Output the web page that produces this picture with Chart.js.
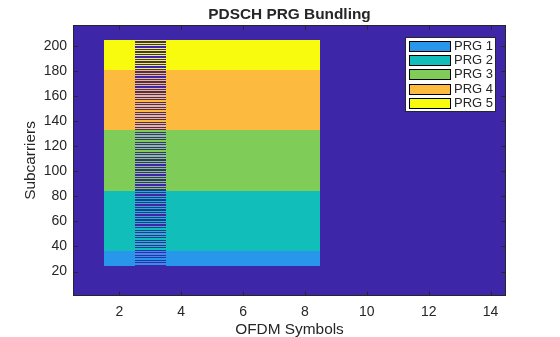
<!DOCTYPE html>
<html>
<head>
<meta charset="utf-8">
<title>PDSCH PRG Bundling</title>
<script src="https://cdn.jsdelivr.net/npm/chart.js@4.4.0/dist/chart.umd.min.js"></script>
<style>
  html, body { margin: 0; padding: 0; background: #ffffff; }
  #gridChart { display: block; }
</style>
</head>
<body>
<canvas id="gridChart" width="560" height="337"></canvas>
<script>
// ------------------- Grid data -------------------
const symbolCount = 14;
const subcarrierCount = 216;

const prgNames = ["PRG 1", "PRG 2", "PRG 3", "PRG 4", "PRG 5"];
const prgFirstSubcarrier = [25, 37, 85, 133, 181];
const prgLastSubcarrier = [36, 84, 132, 180, 204];

const pdschSymbols = [2, 3, 4, 5, 6, 7, 8];
const dmrsSymbols = [3];
const dmrsSubcarrierStep = 2; // DM-RS on every other subcarrier, starting at the first PDSCH subcarrier

const xTicks = [2, 4, 6, 8, 10, 12, 14];
const yTicks = [20, 40, 60, 80, 100, 120, 140, 160, 180, 200];

// parula(6): index 0 is the empty grid, 1..5 are the PRGs
const gridColors = ["#3e26a8", "#2796eb", "#12beb9", "#80cc59", "#fcbb3e", "#f9fb0e"];
const axisColor = "#262626";
const fontFamily = "'Liberation Sans', Arial, Helvetica, sans-serif";

// ------------------- Helper Functions -------------------

function prgForSubcarrier(k) {
  for (let i = 0; i < prgNames.length; i++) {
    if (k >= prgFirstSubcarrier[i] && k <= prgLastSubcarrier[i]) return i + 1;
  }
  return 0;
}

// grid[symbol-1][subcarrier-1] holds the PRG number, 0 where nothing is mapped
function buildGrid() {
  const grid = [];
  const firstSc = prgFirstSubcarrier[0];
  for (let s = 1; s <= symbolCount; s++) {
    const column = [];
    for (let k = 1; k <= subcarrierCount; k++) {
      let v = pdschSymbols.includes(s) ? prgForSubcarrier(k) : 0;
      if (v && dmrsSymbols.includes(s) && (k - firstSc) % dmrsSubcarrierStep === 0) v = 0;
      column.push(v);
    }
    grid.push(column);
  }
  return grid;
}

const resourceGrid = buildGrid();

// draws the grid cells, merging equal runs in each symbol column
const gridPlugin = {
  id: "resourceGrid",
  beforeDatasetsDraw(chart) {
    const { ctx, scales: { x, y }, chartArea } = chart;
    ctx.save();
    ctx.beginPath();
    ctx.rect(chartArea.left, chartArea.top, chartArea.width, chartArea.height);
    ctx.clip();
    resourceGrid.forEach((column, si) => {
      const s = si + 1;
      const x0 = Math.round(x.getPixelForValue(s - 0.5));
      const x1 = Math.round(x.getPixelForValue(s + 0.5));
      let start = 0;
      for (let k = 1; k <= column.length; k++) {
        if (k === column.length || column[k] !== column[start]) {
          const yTop = Math.round(y.getPixelForValue(k + 0.5));
          const yBot = Math.round(y.getPixelForValue(start + 0.5));
          ctx.fillStyle = gridColors[column[start]];
          ctx.fillRect(x0, yTop, x1 - x0, yBot - yTop);
          start = k;
        }
      }
    });
    ctx.restore();
  },
  afterDraw(chart) {
    const { ctx, scales: { x, y }, chartArea: a } = chart;
    const tickLen = 4.5;
    ctx.save();

    // axes box with inward ticks on all four sides
    ctx.strokeStyle = axisColor;
    ctx.lineWidth = 1;
    ctx.strokeRect(a.left + 0.5, a.top + 0.5, a.width - 1, a.height - 1);
    ctx.beginPath();
    xTicks.forEach((v) => {
      const px = Math.round(x.getPixelForValue(v)) + 0.5;
      ctx.moveTo(px, a.bottom); ctx.lineTo(px, a.bottom - tickLen);
      ctx.moveTo(px, a.top); ctx.lineTo(px, a.top + tickLen);
    });
    yTicks.forEach((v) => {
      const py = Math.round(y.getPixelForValue(v)) + 0.5;
      ctx.moveTo(a.left, py); ctx.lineTo(a.left + tickLen, py);
      ctx.moveTo(a.right, py); ctx.lineTo(a.right - tickLen, py);
    });
    ctx.stroke();

    // title
    ctx.fillStyle = axisColor;
    ctx.font = "bold 15.4px " + fontFamily;
    ctx.textAlign = "center";
    ctx.textBaseline = "middle";
    ctx.fillText("PDSCH PRG Bundling", (a.left + a.right) / 2, 15);

    // legend
    const boxX = 405.5, boxY = 37.5, boxW = 90, boxH = 74;
    ctx.fillStyle = "#ffffff";
    ctx.fillRect(boxX, boxY, boxW, boxH);
    ctx.strokeStyle = axisColor;
    ctx.lineWidth = 1;
    ctx.strokeRect(boxX, boxY, boxW, boxH);
    ctx.font = "13px " + fontFamily;
    ctx.textAlign = "left";
    prgNames.forEach((name, i) => {
      const cy = 45.5 + i * 14.4;
      ctx.fillStyle = gridColors[i + 1];
      ctx.fillRect(409.5, Math.round(cy - 5) + 0.5, 41, 10);
      ctx.strokeStyle = "#000000";
      ctx.strokeRect(409.5, Math.round(cy - 5) + 0.5, 41, 10);
      ctx.fillStyle = axisColor;
      ctx.fillText(name, 454, cy + 0.5);
    });
    ctx.restore();
  }
};

// ------------------- Chart -------------------

Chart.defaults.font.family = fontFamily;
Chart.defaults.color = axisColor;

new Chart(document.getElementById("gridChart"), {
  type: "scatter",
  data: { datasets: [] },
  options: {
    responsive: false,
    animation: false,
    layout: { padding: { top: 25, right: 54, bottom: 0, left: 0 } },
    plugins: {
      legend: { display: false },
      tooltip: { enabled: false },
      title: { display: false }
    },
    scales: {
      x: {
        type: "linear",
        min: 0.5,
        max: symbolCount + 0.5,
        grid: { display: false, drawTicks: false },
        border: { display: false },
        ticks: { color: axisColor, font: { size: 14 }, padding: 7.5 },
        afterBuildTicks: (scale) => { scale.ticks = xTicks.map((v) => ({ value: v })); },
        afterFit: (scale) => { scale.height = 41; },
        title: {
          display: true,
          text: "OFDM Symbols",
          color: axisColor,
          font: { size: 15.4, lineHeight: 1 },
          padding: { top: 0, bottom: 0 }
        }
      },
      y: {
        type: "linear",
        min: 0.5,
        max: subcarrierCount + 0.5,
        grid: { display: false, drawTicks: false },
        border: { display: false },
        ticks: { color: axisColor, font: { size: 14 }, padding: 6 },
        afterBuildTicks: (scale) => { scale.ticks = yTicks.map((v) => ({ value: v })); },
        afterFit: (scale) => { scale.width = 73; },
        title: {
          display: true,
          text: "Subcarriers",
          color: axisColor,
          font: { size: 15.4 },
          padding: { top: 22, bottom: 0 }
        }
      }
    }
  },
  plugins: [gridPlugin]
});
</script>
</body>
</html>
